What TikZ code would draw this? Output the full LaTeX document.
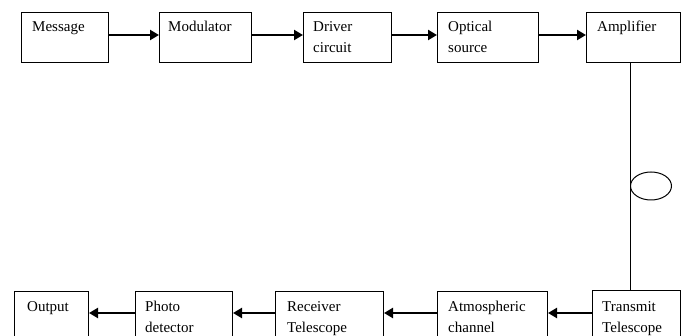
\documentclass[tikz,border=0pt]{standalone}
\usepackage{fontspec}
\setmainfont{Liberation Serif}
\usetikzlibrary{arrows.meta,shapes.geometric}
\begin{document}
\begin{tikzpicture}[x=1pt,y=-1pt,
  blk/.style={draw=black,line width=1pt,minimum width=#1,minimum height=50pt,inner sep=0pt,anchor=north west},
  lbl/.style={anchor=base west,inner sep=0pt,font=\fontsize{15}{21}\selectfont},
  arr/.style={line width=2.3pt,-{Triangle[length=9pt,width=10pt]}},
  wire/.style={line width=1pt}]
\clip (0,0) rectangle (687,336);
% top row
\node[blk=87]  (msg) at (21,12) {};
\node[blk=92]  (mod) at (159,12) {};
\node[blk=88]  (drv) at (303,12) {};
\node[blk=101] (opt) at (437,12) {};
\node[blk=94]  (amp) at (586,12) {};
% bottom row
\node[blk=74]  (out) at (14,291) {};
\node[blk=97]  (pd)  at (135,291) {};
\node[blk=108] (rx)  at (275,291) {};
\node[blk=110] (atm) at (437,291) {};
\node[blk=88]  (tx)  at (592,290) {};
% labels
\node[lbl] (msg1) at ([xshift=11pt,yshift=-20pt]msg.north west) {Message};
\node[lbl] (mod1) at ([xshift=9pt,yshift=-20pt]mod.north west) {Modulator};
\node[lbl] (drv1) at ([xshift=10pt,yshift=-20pt]drv.north west) {Driver};
\node[lbl] (drv2) at ([xshift=10pt,yshift=-41pt]drv.north west) {circuit};
\node[lbl] (opt1) at ([xshift=11pt,yshift=-20pt]opt.north west) {Optical};
\node[lbl] (opt2) at ([xshift=11pt,yshift=-41pt]opt.north west) {source};
\node[lbl] (amp1) at ([xshift=11pt,yshift=-20pt]amp.north west) {Amplifier};
\node[lbl] (out1) at ([xshift=13pt,yshift=-20pt]out.north west) {Output};
\node[lbl] (pd1)  at ([xshift=10pt,yshift=-20pt]pd.north west) {Photo};
\node[lbl] (pd2)  at ([xshift=10pt,yshift=-41pt]pd.north west) {detector};
\node[lbl] (rx1)  at ([xshift=12pt,yshift=-20pt]rx.north west) {Receiver};
\node[lbl] (rx2)  at ([xshift=12pt,yshift=-41pt]rx.north west) {Telescope};
\node[lbl] (atm1) at ([xshift=11pt,yshift=-20pt]atm.north west) {Atmospheric};
\node[lbl] (atm2) at ([xshift=11pt,yshift=-41pt]atm.north west) {channel};
\node[lbl] (tx1)  at ([xshift=10pt,yshift=-21pt]tx.north west) {Transmit};
\node[lbl] (tx2)  at ([xshift=10pt,yshift=-42pt]tx.north west) {Telescope};
% top arrows
\draw[arr] (msg.east |- 0,35) -- (mod.west |- 0,35);
\draw[arr] (mod.east |- 0,35) -- (drv.west |- 0,35);
\draw[arr] (drv.east |- 0,35) -- (opt.west |- 0,35);
\draw[arr] (opt.east |- 0,35) -- (amp.west |- 0,35);
% vertical link with lens
\draw[wire] (amp.south -| 630,0) -- (tx.north -| 630,0);
\node[ellipse,draw=black,line width=1pt,minimum width=41pt,minimum height=28pt,inner sep=0pt,anchor=west] (lens) at (630,186) {};
% bottom arrows
\draw[arr] (tx.west |- 0,313) -- (atm.east |- 0,313);
\draw[arr] (atm.west |- 0,313) -- (rx.east |- 0,313);
\draw[arr] (rx.west |- 0,313) -- (pd.east |- 0,313);
\draw[arr] (pd.west |- 0,313) -- (out.east |- 0,313);
\end{tikzpicture}
\end{document}
